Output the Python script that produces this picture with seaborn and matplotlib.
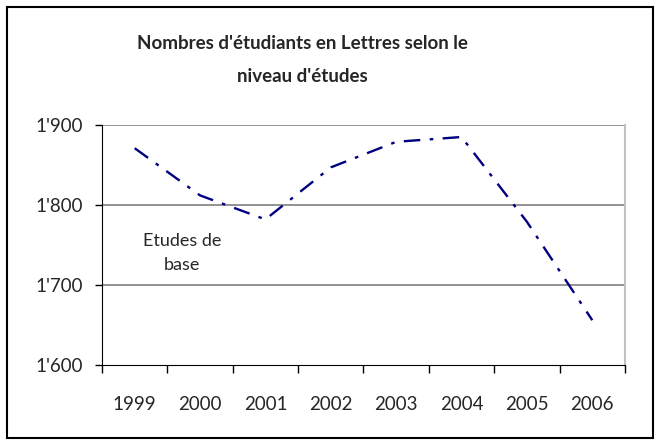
import numpy as np
import pandas as pd
import matplotlib
matplotlib.use("Agg")
import matplotlib.pyplot as plt
import seaborn as sns
from matplotlib.ticker import FuncFormatter, FixedLocator

years = ['1999', '2000', '2001', '2002', '2003', '2004', '2005', '2006']
etudes_base = [1871, 1812, 1782, 1847, 1879, 1885, 1779, 1656]
y_ticks = [1600, 1700, 1800, 1900]

df = pd.DataFrame({'annee': years, 'pos': np.arange(len(years)), 'n': etudes_base})

sns.set_style('white')
plt.rcParams['font.family'] = ['Lato', 'DejaVu Sans']

fig = plt.figure(figsize=(6.61, 4.45), dpi=100)
ax = fig.add_axes([0.1543, 0.1798, 0.7912, 0.5393])

sns.lineplot(data=df, x='pos', y='n', ax=ax, color='#000080', linewidth=1.7,
             linestyle=(0, (7, 4, 1.5, 4)))

ax.set_xlim(-0.5, len(years) - 0.5)
ax.set_ylim(1600, 1900)
ax.set_yticks(y_ticks)
ax.yaxis.set_major_formatter(FuncFormatter(lambda v, p: f"{int(v)//1000}'{int(v)%1000:03d}"))
ax.xaxis.set_major_locator(FixedLocator(np.arange(-0.5, len(years), 1.0)))
ax.xaxis.set_major_formatter(FuncFormatter(lambda v, p: ''))
ax.xaxis.set_minor_locator(FixedLocator(df['pos']))
ax.set_xticklabels(years, minor=True)
ax.tick_params(axis='x', which='major', direction='out', length=6, width=1, color='black', bottom=True)
ax.tick_params(axis='x', which='minor', length=0, pad=22, labelsize=13.5)
ax.tick_params(axis='y', direction='out', length=5, width=1, color='black', left=True, labelsize=13.5, pad=9)
ax.set_xlabel('')
ax.set_ylabel('')

for v in y_ticks[1:]:
    ax.axhline(v, color='#808080', linewidth=1.2, zorder=0)

ax.spines['left'].set_color('black')
ax.spines['bottom'].set_color('black')
ax.spines['top'].set_visible(False)
ax.spines['right'].set_color('#c0c0c0')
ax.spines['right'].set_linewidth(1.5)

ax.text(0.72, 1740, 'Etudes de\nbase', ha='center', va='center', fontsize=13, linespacing=1.6)

fig.text(0.457, 0.866, "Nombres d'étudiants en Lettres selon le\nniveau d'études", ha='center',
         va='center', fontsize=13.5, fontweight='bold', linespacing=2.15)

fig.patches.append(plt.Rectangle((0.011, 0.016), 0.977, 0.969, transform=fig.transFigure,
                                 fill=False, edgecolor='black', linewidth=1.5))

fig.savefig('out.png', dpi=100)
